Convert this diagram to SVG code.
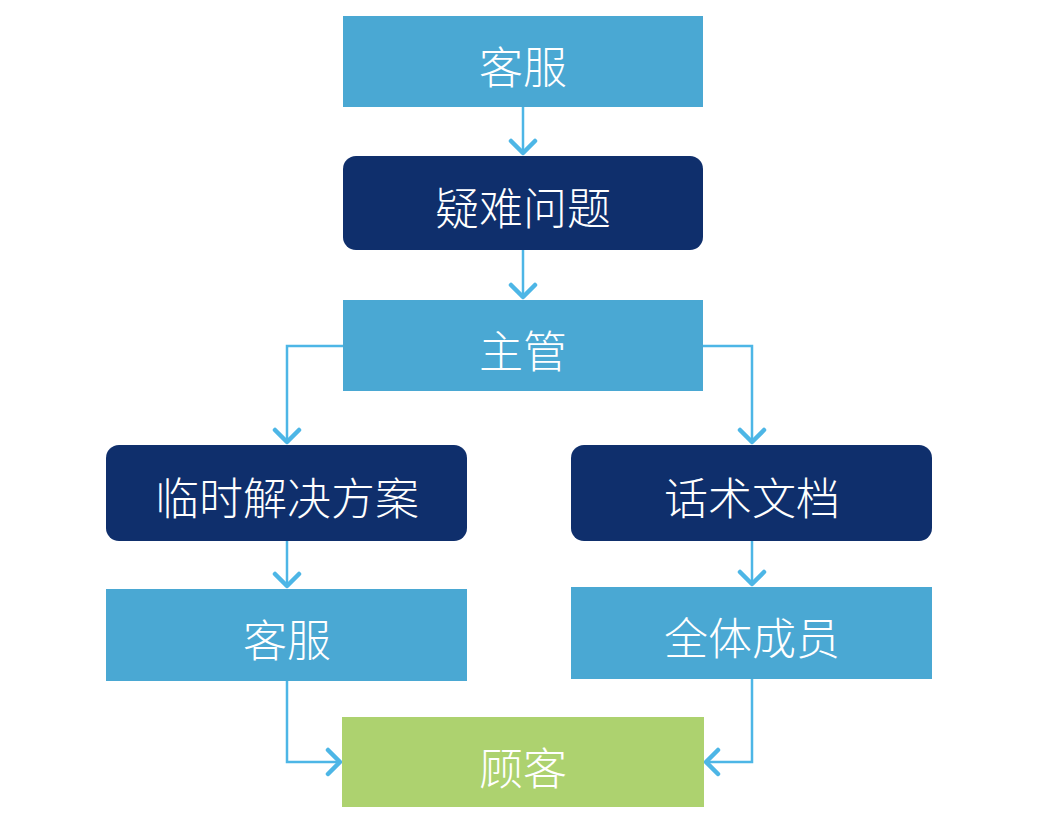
<svg xmlns="http://www.w3.org/2000/svg" width="1060" height="824" viewBox="0 0 1060 824">
<style>
.light{fill:#4AA8D3}
.dark{fill:#0F2F6C}
.green{fill:#ADD26F}
.t{fill:#FFFFFF;font-family:"Noto Sans CJK SC","Noto Sans",sans-serif;font-size:44px;font-weight:300;text-anchor:middle;dominant-baseline:central}
.c{fill:none;stroke:#4DB6E6;stroke-width:2.5}
</style>
<defs>
<marker id="ah" markerUnits="userSpaceOnUse" markerWidth="30" markerHeight="30" viewBox="0 0 30 30" refX="16" refY="15" orient="auto">
<path d="M4,3 L16,15 L4,27" fill="none" stroke="#4DB6E6" stroke-width="4.5" stroke-linecap="round" stroke-linejoin="round"/>
</marker>
</defs>
<rect width="1060" height="824" fill="#FFFFFF"/>
<g id="connectors">
<path class="c" d="M523,107 L523,153" marker-end="url(#ah)"/>
<path class="c" d="M523,250 L523,297" marker-end="url(#ah)"/>
<path class="c" d="M343,346 L287,346 L287,442" marker-end="url(#ah)"/>
<path class="c" d="M703,346 L752,346 L752,442" marker-end="url(#ah)"/>
<path class="c" d="M287,541 L287,586" marker-end="url(#ah)"/>
<path class="c" d="M752,541 L752,584" marker-end="url(#ah)"/>
<path class="c" d="M287,681 L287,762 L340,762" marker-end="url(#ah)"/>
<path class="c" d="M752,679 L752,762 L706,762" marker-end="url(#ah)"/>
</g>
<g id="kefu1"><rect class="light" x="343" y="16" width="360" height="91"/><text class="t" x="523" y="65">客服</text></g>
<g id="yinan"><rect class="dark" x="343" y="156" width="360" height="94" rx="13"/><text class="t" x="523" y="206">疑难问题</text></g>
<g id="zhuguan"><rect class="light" x="343" y="300" width="360" height="91"/><text class="t" x="523" y="349">主管</text></g>
<g id="linshi"><rect class="dark" x="106" y="445" width="361" height="96" rx="13"/><text class="t" x="287" y="496">临时解决方案</text></g>
<g id="huashu"><rect class="dark" x="571" y="445" width="361" height="96" rx="13"/><text class="t" x="752" y="496">话术文档</text></g>
<g id="kefu2"><rect class="light" x="106" y="589" width="361" height="92"/><text class="t" x="287" y="638">客服</text></g>
<g id="quanti"><rect class="light" x="571" y="587" width="361" height="92"/><text class="t" x="752" y="636">全体成员</text></g>
<g id="guke"><rect class="green" x="342" y="717" width="362" height="90"/><text class="t" x="523" y="766">顾客</text></g>
</svg>
